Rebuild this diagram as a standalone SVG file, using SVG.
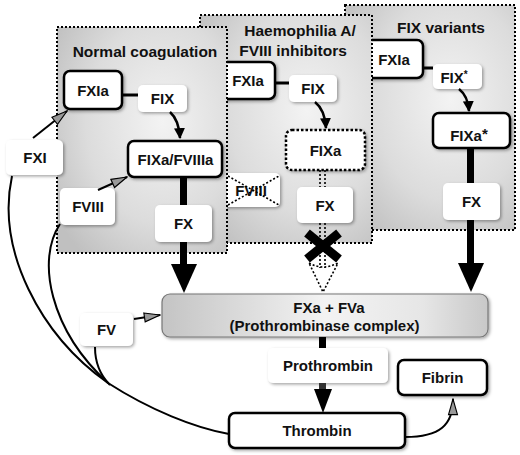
<svg xmlns="http://www.w3.org/2000/svg" width="520" height="455" viewBox="0 0 520 455">
<defs>
<radialGradient id="pg" cx="0.62" cy="0.42" r="0.75">
<stop offset="0" stop-color="#f3f3f3"/>
<stop offset="0.6" stop-color="#dcdcdc"/>
<stop offset="1" stop-color="#c0c0c0"/>
</radialGradient>
<linearGradient id="prg" x1="0" y1="0" x2="1" y2="0">
<stop offset="0" stop-color="#c4c4c4"/>
<stop offset="0.5" stop-color="#f3f3f3"/>
<stop offset="0.8" stop-color="#e6e6e6"/>
<stop offset="1" stop-color="#c8c8c8"/>
</linearGradient>
<filter id="sh" x="-20%" y="-20%" width="150%" height="150%">
<feDropShadow dx="1.5" dy="1.5" stdDeviation="1.5" flood-color="#000" flood-opacity="0.35"/>
</filter>
<marker id="ab" viewBox="0 0 10 10" refX="9" refY="5" markerWidth="4.4" markerHeight="4.4" orient="auto" markerUnits="strokeWidth">
<path d="M0,0 L10,5 L0,10 Z" fill="#000"/>
</marker>
<marker id="ag" viewBox="0 0 16 10" refX="15" refY="5" markerWidth="9" markerHeight="5.6" orient="auto" markerUnits="strokeWidth">
<path d="M1,1 L15,5 L1,9 Z" fill="#999" stroke="#000" stroke-width="1"/>
</marker>
</defs>
<style>
text{font-family:"Liberation Sans",Arial,sans-serif;font-weight:bold;font-size:15px;fill:#111;text-anchor:middle}
.title{font-size:15.5px}
.panel{fill:url(#pg);stroke:#000;stroke-width:2;stroke-dasharray:2 2}
.bx{fill:#fff;stroke:#000;stroke-width:2.5;filter:url(#sh)}
.wb{fill:#fff;stroke:none;filter:url(#sh)}
.ln{fill:none;stroke:#000}
.dot{fill:none;stroke:#000;stroke-width:1.6;stroke-dasharray:2 2}
</style>

<!-- Panel 3: FIX variants -->
<g id="panel-fix-variants">
<rect class="panel" x="345" y="5" width="170" height="225"/>
<text class="title" x="441" y="33">FIX variants</text>
</g>
<g id="p3-fxia"><rect class="bx" x="355" y="40" width="68" height="38" rx="6"/><text x="394" y="65">FXIa</text></g>
<g id="p3-fix"><rect class="wb" x="433" y="64" width="49" height="25" rx="5"/><text x="454" y="83">FIX<tspan font-size="10" dy="-5">*</tspan></text></g>
<g id="p3-fixa"><rect class="bx" x="433" y="113" width="77" height="35" rx="6"/><text x="466" y="141">FIXa</text><text x="482" y="139" font-size="22" style="text-anchor:start">*</text></g>
<g id="p3-fx"><rect class="wb" x="443" y="183" width="57" height="37" rx="5"/><text x="471.5" y="207">FX</text></g>
<g id="p3-connectors">
<line class="ln" x1="423" y1="68" x2="433" y2="68" stroke-width="3"/>
<path class="ln" d="M459 89 Q468 96 469 111" stroke-width="2.5" marker-end="url(#ab)"/>
<rect x="467" y="148" width="7" height="35" fill="#000"/>
</g>

<!-- Panel 2: Haemophilia A -->
<g id="panel-haemophilia">
<rect class="panel" x="200" y="15" width="172" height="228"/>
<text class="title" x="300" y="36">Haemophilia A/</text>
<text class="title" x="293" y="56">FVIII inhibitors</text>
</g>
<g id="p2-fxia"><rect class="bx" x="205" y="62" width="70" height="37" rx="6"/><text x="248" y="86">FXIa</text></g>
<g id="p2-fix"><rect class="wb" x="289" y="75" width="48" height="27" rx="5"/><text x="313" y="94">FIX</text></g>
<g id="p2-fixa"><rect x="286" y="130" width="79" height="40" rx="6" fill="#fff" stroke="#000" stroke-width="2.5" stroke-dasharray="2.5 2" filter="url(#sh)"/><text x="325.5" y="155.5">FIXa</text></g>
<g id="p2-fx"><rect class="wb" x="297" y="187" width="56" height="36" rx="5"/><text x="325" y="210.5">FX</text></g>
<g id="p2-fviii"><rect class="wb" x="210" y="173" width="70" height="34" rx="5"/><text x="251" y="195.5">FVIII</text>
<line class="dot" x1="228" y1="176" x2="279" y2="205"/><line class="dot" x1="228" y1="205" x2="279" y2="176"/></g>
<g id="p2-connectors">
<line class="ln" x1="275" y1="83" x2="289" y2="83" stroke-width="3"/>
<path class="ln" d="M315 102 Q325 110 326 128" stroke-width="2.5" marker-end="url(#ab)"/>
<line class="dot" x1="320" y1="170" x2="320" y2="187"/>
<line class="dot" x1="325" y1="170" x2="325" y2="187"/>
<line class="dot" x1="320" y1="223" x2="320" y2="268"/>
<line class="dot" x1="325" y1="223" x2="325" y2="268"/>
<path class="dot" d="M309 263 Q323 271 338 263 L323 292 Z"/>
<line x1="307" y1="233" x2="339" y2="259" stroke="#000" stroke-width="9"/>
<line x1="307" y1="259" x2="339" y2="233" stroke="#000" stroke-width="9"/>
</g>

<!-- Panel 1: Normal coagulation -->
<g id="panel-normal">
<rect class="panel" x="57" y="27" width="170" height="226"/>
<text class="title" x="145" y="57">Normal coagulation</text>
</g>
<g id="p1-fxia"><rect class="bx" x="64" y="71" width="58" height="38" rx="6"/><text x="93" y="95.5">FXIa</text></g>
<g id="p1-fix"><rect class="wb" x="138" y="85" width="49" height="27" rx="5"/><text x="162.5" y="104">FIX</text></g>
<g id="p1-fixa-fviiia"><rect class="bx" x="128" y="141" width="94" height="36" rx="6"/><text x="175.5" y="164.5">FIXa/FVIIIa</text></g>
<g id="p1-fx"><rect class="wb" x="155" y="205" width="57" height="37" rx="5"/><text x="183.5" y="229">FX</text></g>
<g id="p1-connectors">
<line class="ln" x1="122" y1="95" x2="138" y2="95" stroke-width="3"/>
<path class="ln" d="M170 112 Q179 120 180 138" stroke-width="2.5" marker-end="url(#ab)"/>
<rect x="180" y="177" width="7" height="28" fill="#000"/>
</g>

<!-- Outside nodes -->
<g id="fxi"><rect class="wb" x="6" y="140" width="57" height="35" rx="5"/><text x="35" y="163">FXI</text></g>
<g id="fviii"><rect class="wb" x="60" y="188" width="55" height="37" rx="5"/><text x="88" y="212">FVIII</text></g>
<g id="fv"><rect class="wb" x="80" y="313" width="53" height="33" rx="5"/><text x="106.5" y="335">FV</text></g>
<g id="prothrombinase"><rect x="162" y="294" width="326" height="43" rx="8" fill="url(#prg)" stroke="#777" stroke-width="1.2" filter="url(#sh)"/>
<text x="329" y="313">FXa + FVa</text><text x="324.5" y="331">(Prothrombinase complex)</text></g>
<g id="prothrombin"><rect class="wb" x="268" y="348" width="120" height="35" rx="5"/><text x="328" y="371">Prothrombin</text></g>
<g id="fibrin"><rect class="bx" x="398" y="360" width="89" height="35" rx="6"/><text x="442.5" y="383">Fibrin</text></g>
<g id="thrombin"><rect class="bx" x="229" y="413" width="176" height="35" rx="6"/><text x="317" y="436">Thrombin</text></g>

<g id="connectors">
<rect x="180" y="242" width="7" height="25" fill="#000"/>
<polygon points="171,264 197,264 184,293" fill="#000"/>
<rect x="467" y="220" width="7" height="45" fill="#000"/>
<polygon points="458,263 484,263 471,292" fill="#000"/>
<rect x="319" y="337" width="7" height="11" fill="#000"/>
<rect x="319" y="383" width="7" height="8" fill="#333"/>
<polygon points="314,389 332,389 323,413" fill="#000"/>
<line class="ln" x1="33" y1="138" x2="67" y2="111" stroke-width="2" marker-end="url(#ag)"/>
<line class="ln" x1="98" y1="190" x2="127" y2="177" stroke-width="2" marker-end="url(#ag)"/>
<line class="ln" x1="134" y1="319" x2="160" y2="315" stroke-width="2" marker-end="url(#ag)"/>
<path class="ln" d="M405 437 C440 437 453 425 453 399" stroke-width="2" marker-end="url(#ag)"/>
<path class="ln" stroke-width="2" d="M12 176 C-4 250 40 335 108 383 C150 410 195 428 229 434"/>
<path class="ln" stroke-width="2" d="M60 224 C36 260 50 330 108 383"/>
<path class="ln" stroke-width="2" d="M95 347 C95 362 99 374 110 385"/>
</g>
</svg>
